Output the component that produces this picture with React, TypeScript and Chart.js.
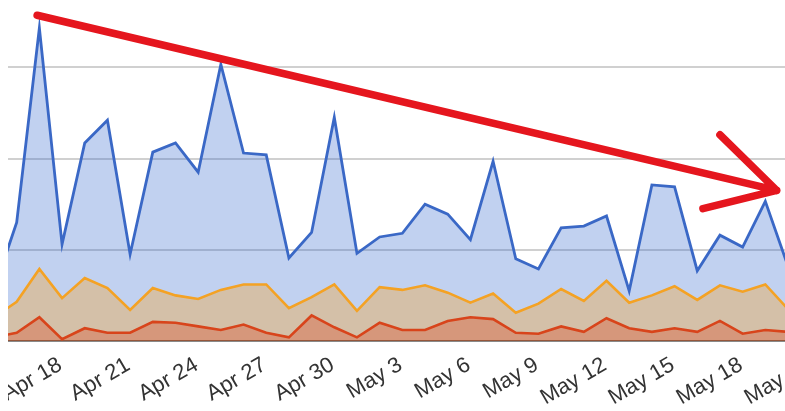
import React, { useEffect, useRef } from 'react';
import { Chart, registerables } from 'chart.js';

Chart.register(...registerables);

// Days shown (index 0 = Apr 16, partly outside the visible window)
const dates = [
  'Apr 16', 'Apr 17', 'Apr 18', 'Apr 19', 'Apr 20', 'Apr 21', 'Apr 22', 'Apr 23', 'Apr 24',
  'Apr 25', 'Apr 26', 'Apr 27', 'Apr 28', 'Apr 29', 'Apr 30', 'May 1', 'May 2', 'May 3',
  'May 4', 'May 5', 'May 6', 'May 7', 'May 8', 'May 9', 'May 10', 'May 11', 'May 12',
  'May 13', 'May 14', 'May 15', 'May 16', 'May 17', 'May 18', 'May 19', 'May 20', 'May 21',
];

// Every third day gets a tick label
const tickIndices = [2, 5, 8, 11, 14, 17, 20, 23, 26, 29, 32, 35];

const seriesBlue = [
  56, 130, 343, 106, 217, 242, 95, 207, 217, 185, 303, 206, 204, 91, 119,
  245, 96, 114, 118, 150, 139, 111, 197, 90, 79, 124, 126, 137, 55, 171, 169, 77, 116, 103, 153, 82,
];
const seriesOrange = [
  26, 43, 79, 47, 69, 58, 34, 58, 50, 46, 56, 62, 62, 36, 48,
  62, 33, 59, 56, 61, 53, 42, 52, 31, 41, 57, 44, 66, 42, 50, 60, 45, 61, 54, 62, 35,
];
const seriesRed = [
  4, 9, 26, 2, 14, 9, 9, 21, 20, 16, 12, 18, 9, 4, 28,
  15, 4, 20, 12, 12, 22, 26, 24, 9, 8, 16, 10, 25, 14, 10, 14, 10, 22, 8, 12, 10,
];

// Visible x window (day index) and y range
const xWindow = [0.617, 35];
const yRange = [0, 400];
const yStep = 100;

// Hand-drawn red trend arrow, in data units [dayIndex, value]
const arrowStart = [1.9, 357];
const arrowTip = [34.5, 165];
const arrowBarbs = [
  [32.0, 226],
  [31.25, 145],
];

const toXY = (arr: number[]) => arr.map((v, i) => ({ x: i, y: v }));

const arrowPlugin = {
  id: 'trendArrow',
  afterDraw(chart: any) {
    const { ctx, scales } = chart;
    const px = (p: number[]) => [scales.x.getPixelForValue(p[0]), scales.y.getPixelForValue(p[1])];
    const s = px(arrowStart);
    const t = px(arrowTip);
    ctx.save();
    ctx.strokeStyle = '#e5161e';
    ctx.lineWidth = 7.5;
    ctx.lineCap = 'round';
    ctx.lineJoin = 'round';
    ctx.beginPath();
    ctx.moveTo(s[0], s[1]);
    ctx.lineTo(t[0], t[1]);
    arrowBarbs.forEach((b) => {
      const p = px(b);
      ctx.moveTo(p[0], p[1]);
      ctx.lineTo(t[0], t[1]);
    });
    ctx.stroke();
    ctx.restore();
  },
};

export default function App() {
  const ref = useRef<HTMLCanvasElement>(null);

  useEffect(() => {
    document.body.style.overflow = 'hidden';
    document.body.style.background = '#ffffff';
    const chart = new Chart(ref.current as HTMLCanvasElement, {
      type: 'line',
      data: {
        datasets: [
          {
            label: 'Series 1',
            data: toXY(seriesBlue),
            borderColor: '#3a68c6',
            backgroundColor: 'rgba(51,102,204,0.3)',
            borderWidth: 2.8,
            fill: 'origin',
            order: 3,
          },
          {
            label: 'Series 2',
            data: toXY(seriesOrange),
            borderColor: '#f4a224',
            backgroundColor: 'rgba(255,153,0,0.3)',
            borderWidth: 2.6,
            fill: 'origin',
            order: 2,
          },
          {
            label: 'Series 3',
            data: toXY(seriesRed),
            borderColor: '#d8441b',
            backgroundColor: 'rgba(220,57,18,0.3)',
            borderWidth: 2.6,
            fill: 'origin',
            order: 1,
          },
        ],
      },
      options: {
        animation: false,
        responsive: true,
        maintainAspectRatio: false,
        layout: { padding: 0 },
        elements: {
          point: { radius: 0, hoverRadius: 0 },
          line: { tension: 0 },
        },
        datasets: { line: { clip: 0 } } as any,
        plugins: {
          legend: { display: false },
          tooltip: { enabled: false },
        },
        scales: {
          x: {
            type: 'linear',
            min: xWindow[0],
            max: xWindow[1],
            afterBuildTicks: (s: any) => {
              s.ticks = tickIndices.map((v) => ({ value: v }));
            },
            afterFit: (s: any) => {
              s.height = 70;
              s.paddingLeft = 0;
              s.paddingRight = 0;
            },
            ticks: {
              autoSkip: false,
              minRotation: 30,
              maxRotation: 30,
              padding: 3,
              labelOffset: 21,
              color: '#333333',
              font: { family: '"Liberation Sans", Arial, sans-serif', size: 22 },
              callback: (v: any) => dates[Math.round(Number(v))] ?? '',
            },
            grid: { display: false },
            border: { display: true, color: '#444444', width: 1.5 },
          },
          y: {
            min: yRange[0],
            max: yRange[1],
            afterFit: (s: any) => {
              s.width = 0;
            },
            ticks: { display: false, stepSize: yStep },
            grid: { color: '#d0d0d0', lineWidth: 2, drawTicks: false },
            border: { display: false },
          },
        },
      },
      plugins: [arrowPlugin],
    } as any);
    return () => chart.destroy();
  }, []);

  return (
    <div style={{ position: 'fixed', left: 8, top: -24, width: 780, height: 435 }}>
      <canvas ref={ref} />
    </div>
  );
}
